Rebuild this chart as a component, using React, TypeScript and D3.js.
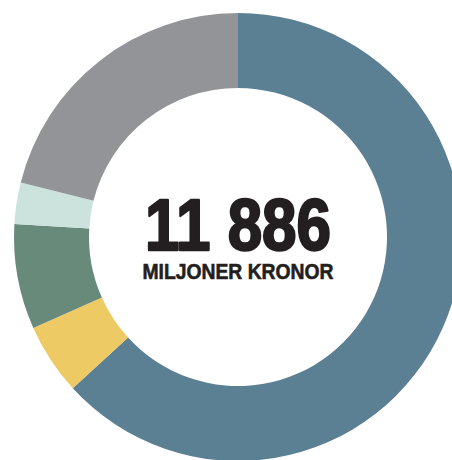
import React from "react";
import * as d3 from "d3";

const categories = ["A", "B", "C", "D", "E"];
const values = [7512, 611, 901, 355, 2507];
const colors = ["#5b7f93", "#edca64", "#678a7b", "#cce3dd", "#939498"];
const totalLabel = "11 886";
const unitLabel = "MILJONER KRONOR";

export default function App() {
  const W = 452, H = 460;
  const cx = 238, cy = 237, R = 224, r = 149;
  const pie = d3.pie<number>().sort(null).value((d) => d);
  const arcs = pie(values);
  const arc = d3.arc<d3.PieArcDatum<number>>().innerRadius(r).outerRadius(R);
  return (
    <svg width={W} height={H} style={{ position: "absolute", left: 0, top: 0, background: "#fff" }}>
      <g transform={`translate(${cx},${cy})`}>
        {arcs.map((a, i) => (
          <path key={categories[i]} d={arc(a) || ""} fill={colors[i]} />
        ))}
        <text
          x={0}
          y={13}
          textAnchor="middle"
          fontFamily="Liberation Sans, Arial, sans-serif"
          fontWeight="bold"
          fontSize={72}
          fill="#231f20"
          stroke="#231f20"
          strokeWidth={2.4}
          strokeLinejoin="round"
          textLength={186}
          lengthAdjust="spacingAndGlyphs"
        >
          {totalLabel}
        </text>
        <text
          x={0}
          y={42}
          textAnchor="middle"
          fontFamily="Liberation Sans, Arial, sans-serif"
          fontWeight="bold"
          fontSize={22}
          fill="#231f20"
          stroke="#231f20"
          strokeWidth={0.6}
          textLength={191}
          lengthAdjust="spacingAndGlyphs"
        >
          {unitLabel}
        </text>
      </g>
    </svg>
  );
}
